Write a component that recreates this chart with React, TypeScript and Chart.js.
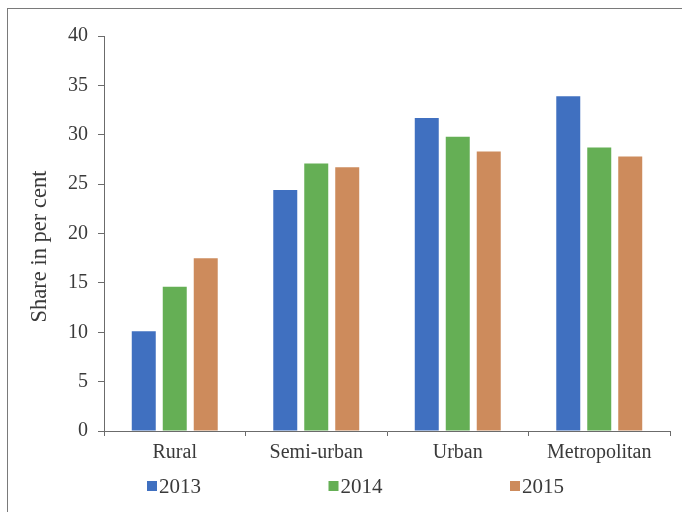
import React, { useEffect, useRef } from "react";
import { Chart, registerables } from "chart.js";

Chart.register(...registerables);

const categories = ["Rural", "Semi-urban", "Urban", "Metropolitan"];
const years = ["2013", "2014", "2015"];
const values2013 = [10.1, 24.4, 31.7, 33.9];
const values2014 = [14.6, 27.1, 29.8, 28.7];
const values2015 = [17.5, 26.7, 28.3, 27.8];
const seriesColors = ["#4070C0", "#65AF55", "#CD8B5C"];
const yTitle = "Share in per cent";

const FONT = "'Liberation Serif', 'Times New Roman', serif";
const TEXT = "#3a3a3a";
const AXIS = "#6b6b6b";

const decorPlugin = {
  id: "decor",
  afterDraw(chart: any) {
    const { ctx, chartArea } = chart;
    ctx.save();
    // y-axis title
    ctx.save();
    ctx.translate(40, (chartArea.top + chartArea.bottom) / 2 + 13);
    ctx.rotate(-Math.PI / 2);
    ctx.font = `22.5px ${FONT}`;
    ctx.fillStyle = TEXT;
    ctx.textAlign = "center";
    ctx.textBaseline = "middle";
    ctx.fillText(yTitle, 0, 0);
    ctx.restore();
    // legend
    ctx.font = `21px ${FONT}`;
    ctx.textBaseline = "middle";
    ctx.textAlign = "left";
    chart.data.datasets.forEach((ds: any, i: number) => {
      const x = chartArea.left + 43 + i * 181.5;
      const y = chartArea.bottom + 55;
      ctx.fillStyle = ds.backgroundColor;
      ctx.fillRect(x, y - 5, 10, 10);
      ctx.fillStyle = TEXT;
      ctx.fillText(ds.label, x + 12, y + 1);
    });
    ctx.restore();
  },
};

export default function App() {
  const ref = useRef<HTMLCanvasElement | null>(null);
  useEffect(() => {
    if (!ref.current) return;
    const data = [values2013, values2014, values2015];
    const chart = new Chart(ref.current, {
      type: "bar",
      data: {
        labels: categories,
        datasets: years.map((y, i) => ({
          label: y,
          data: data[i],
          backgroundColor: seriesColors[i],
          categoryPercentage: 0.657,
          barPercentage: 0.774,
        })),
      },
      options: {
        animation: false,
        responsive: false,
        maintainAspectRatio: false,
        layout: { padding: { top: 36, bottom: 42, left: 0, right: 12 } },
        plugins: { legend: { display: false }, tooltip: { enabled: false } },
        scales: {
          x: {
            grid: { drawOnChartArea: false, drawTicks: true, tickLength: 5, color: AXIS, offset: true },
            border: { display: true, color: AXIS, width: 1 },
            ticks: { color: TEXT, font: { family: FONT, size: 20 }, padding: 5, maxRotation: 0 },
          },
          y: {
            min: 0,
            max: 40,
            afterFit: (scale: any) => {
              scale.width = 104;
            },
            ticks: { stepSize: 5, color: TEXT, font: { family: FONT, size: 20 }, padding: 10 },
            grid: { drawOnChartArea: false, drawTicks: true, tickLength: 6, color: AXIS },
            border: { display: true, color: AXIS, width: 1 },
            title: { display: false },
          },
        },
      },
      plugins: [decorPlugin],
    });
    return () => chart.destroy();
  }, []);
  return (
    <div>
      <div
        style={{
          position: "fixed",
          left: 7,
          top: 8,
          width: 720,
          height: 620,
          border: "1px solid #7a7a7a",
          background: "#fff",
        }}
      />
      <div style={{ position: "fixed", left: 0, top: 0, width: 682, height: 512 }}>
        <canvas ref={ref} width={682} height={512} style={{ width: 682, height: 512 }} />
      </div>
    </div>
  );
}
